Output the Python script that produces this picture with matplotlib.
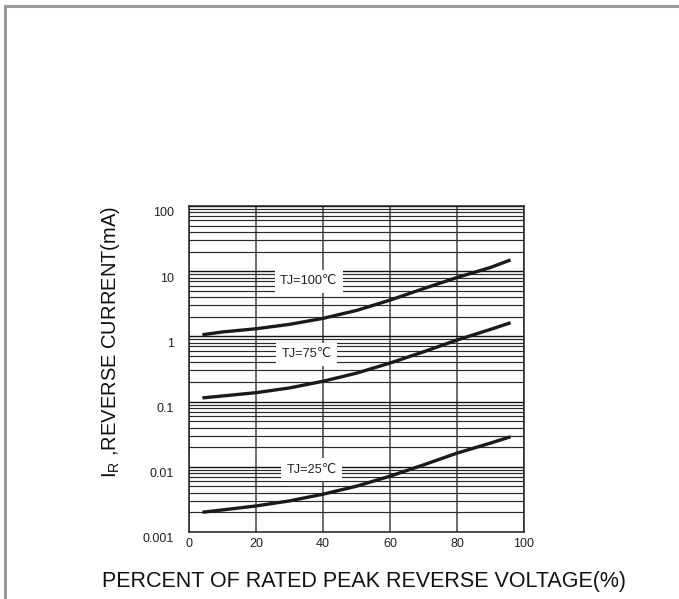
import matplotlib
matplotlib.use('Agg')
import matplotlib.pyplot as plt
import matplotlib.transforms as mtransforms
from matplotlib.lines import Line2D
from matplotlib.ticker import LogLocator, NullFormatter

plt.rcParams['font.family'] = ['Liberation Sans', 'DejaVu Sans']

# values
x = [4, 10, 20, 30, 40, 50, 60, 70, 80, 90, 96]
tj100 = [1.06, 1.17, 1.31, 1.53, 1.89, 2.5, 3.6, 5.4, 8.0, 11.4, 14.9]
tj75 = [0.114, 0.122, 0.137, 0.162, 0.205, 0.273, 0.39, 0.58, 0.88, 1.28, 1.62]
tj25 = [0.00201, 0.00218, 0.00251, 0.0030, 0.0038, 0.00504, 0.00718, 0.0107, 0.0162, 0.0231, 0.0289]

xticks = [0, 20, 40, 60, 80, 100]
yticks = [0.001, 0.01, 0.1, 1, 10, 100]
ytick_labels = ['0.001', '0.01', '0.1', '1', '10', '100']

labels = ['TJ=100℃', 'TJ=75℃', 'TJ=25℃']
label_x = [35.8, 35.2, 36.7]
label_y = [7.0, 0.53, 0.009]

fig = plt.figure(figsize=(6.79, 5.99), dpi=100)
ax = fig.add_axes([189 / 679, 67 / 599, 335 / 679, 326 / 599])

ax.set_yscale('log')
ax.set_xlim(0, 100)
ax.set_ylim(0.001, 100)

# grid
ax.yaxis.set_minor_locator(LogLocator(base=10, subs=range(2, 10)))
ax.yaxis.set_minor_formatter(NullFormatter())
ax.grid(True, which='major', axis='y', color='#111111', lw=1.0)
ax.grid(True, which='minor', axis='y', color='#2a2a2a', lw=0.85)
ax.grid(True, which='major', axis='x', color='#444444', lw=1.1)
ax.set_axisbelow(True)

for s in ax.spines.values():
    s.set_color('#222222')
    s.set_linewidth(1.1)

# curves
for ys in (tj100, tj75, tj25):
    ax.plot(x, ys, color='#1a1a1a', lw=2.4, solid_capstyle='butt')

for t, lx, ly in zip(labels, label_x, label_y):
    ax.text(lx, ly, t, fontsize=9.2, ha='center', va='center', color='#222222',
            bbox=dict(boxstyle='square,pad=0.42', fc='white', ec='none'))

ax.set_xticks(xticks)
ax.set_xticklabels([str(v) for v in xticks])
ax.set_yticks(yticks)
ax.set_yticklabels(ytick_labels)
ax.tick_params(axis='both', which='both', length=0, labelsize=9, colors='#222222')
ax.tick_params(axis='y', pad=11)
ax.tick_params(axis='x', pad=4)

# y tick labels sit a little below their grid line
off = mtransforms.ScaledTranslation(0, -6 / 100, fig.dpi_scale_trans)
for lab in ax.get_yticklabels():
    lab.set_transform(lab.get_transform() + off)

fig.text(111 / 679, 1 - 342 / 599, r'I$_{\mathregular{R}}$ ,REVERSE CURRENT(mA)',
         rotation=90, ha='center', va='center', fontsize=14.5, color='#111111')
fig.text(364 / 679, 1 - 582 / 599, 'PERCENT OF RATED PEAK REVERSE VOLTAGE(%)',
         ha='center', va='center', fontsize=15.5, color='#111111')

# gray frame on top and left
fig.add_artist(Line2D([5 / 679, 1], [1 - 6 / 599, 1 - 6 / 599], transform=fig.transFigure,
                      color='#999999', lw=2.2))
fig.add_artist(Line2D([5 / 679, 5 / 679], [0, 1 - 6 / 599], transform=fig.transFigure,
                      color='#999999', lw=2.2))

fig.savefig('out.png', dpi=100)
